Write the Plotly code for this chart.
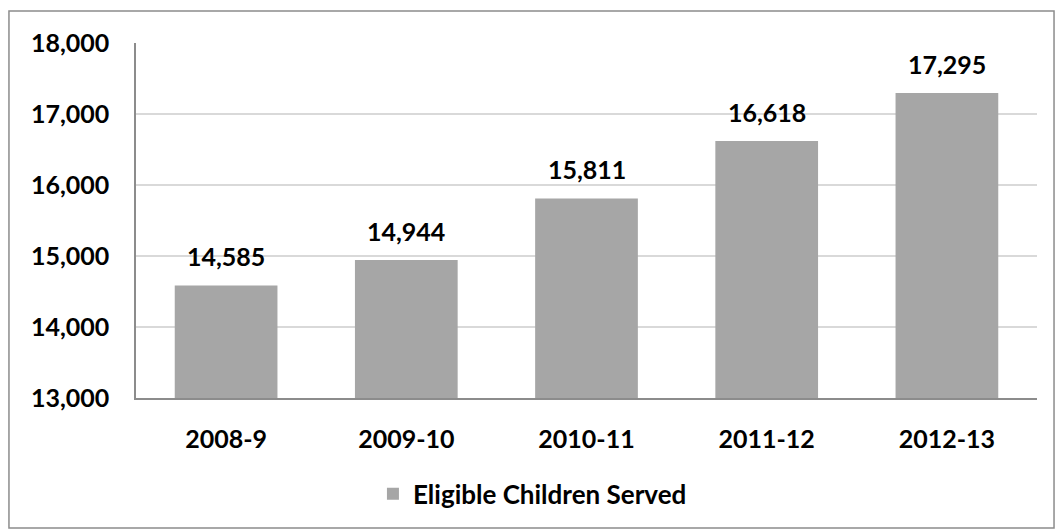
import plotly.graph_objects as go

categories = ["2008-9", "2009-10", "2010-11", "2011-12", "2012-13"]
values = [14585, 14944, 15811, 16618, 17295]
series_name = "Eligible Children Served"

FONT = "Lato"
FS = 25
fig = go.Figure()
fig.add_trace(go.Bar(
    x=categories, y=values, name=series_name,
    marker=dict(color="#A6A6A6", line=dict(width=0)),
    showlegend=True,
))
for c, v in zip(categories, values):
    fig.add_annotation(x=c, y=v, text=f"{v:,}", showarrow=False,
                       yanchor="middle", yshift=29,
                       font=dict(family=FONT, size=FS, color="#000000", weight="bold"))
fig.update_layout(
    width=1055, height=531,
    margin=dict(l=136, r=18, t=43, b=133),
    paper_bgcolor="white", plot_bgcolor="white",
    bargap=0.43,
    font=dict(family=FONT, size=FS, color="#000000", weight="bold"),
    showlegend=True,
    legend=dict(orientation="h", x=0.44, xanchor="center", y=-0.27, yanchor="middle",
                font=dict(family=FONT, size=26, color="#000000", weight="bold")),
    xaxis=dict(type="category", showline=True, linecolor="#8C8C8C", linewidth=1.5, ticks="",
               ticklabelstandoff=18,
               tickfont=dict(family=FONT, size=FS, weight="bold")),
    yaxis=dict(range=[13000, 18000], dtick=1000, tickformat=",d",
               showline=True, linecolor="#8C8C8C", linewidth=1.5,
               showgrid=True, gridcolor="#D9D9D9", gridwidth=1.5, zeroline=False,
               ticklabelstandoff=20,
               tickfont=dict(family=FONT, size=FS, weight="bold")),
    shapes=[dict(type="rect", xref="paper", yref="paper",
                 x0=-0.141, x1=1.0189, y0=-0.366, y1=1.090,
                 line=dict(color="#8C8C8C", width=1.5), fillcolor="rgba(0,0,0,0)")],
)
fig.write_html("out.html")
